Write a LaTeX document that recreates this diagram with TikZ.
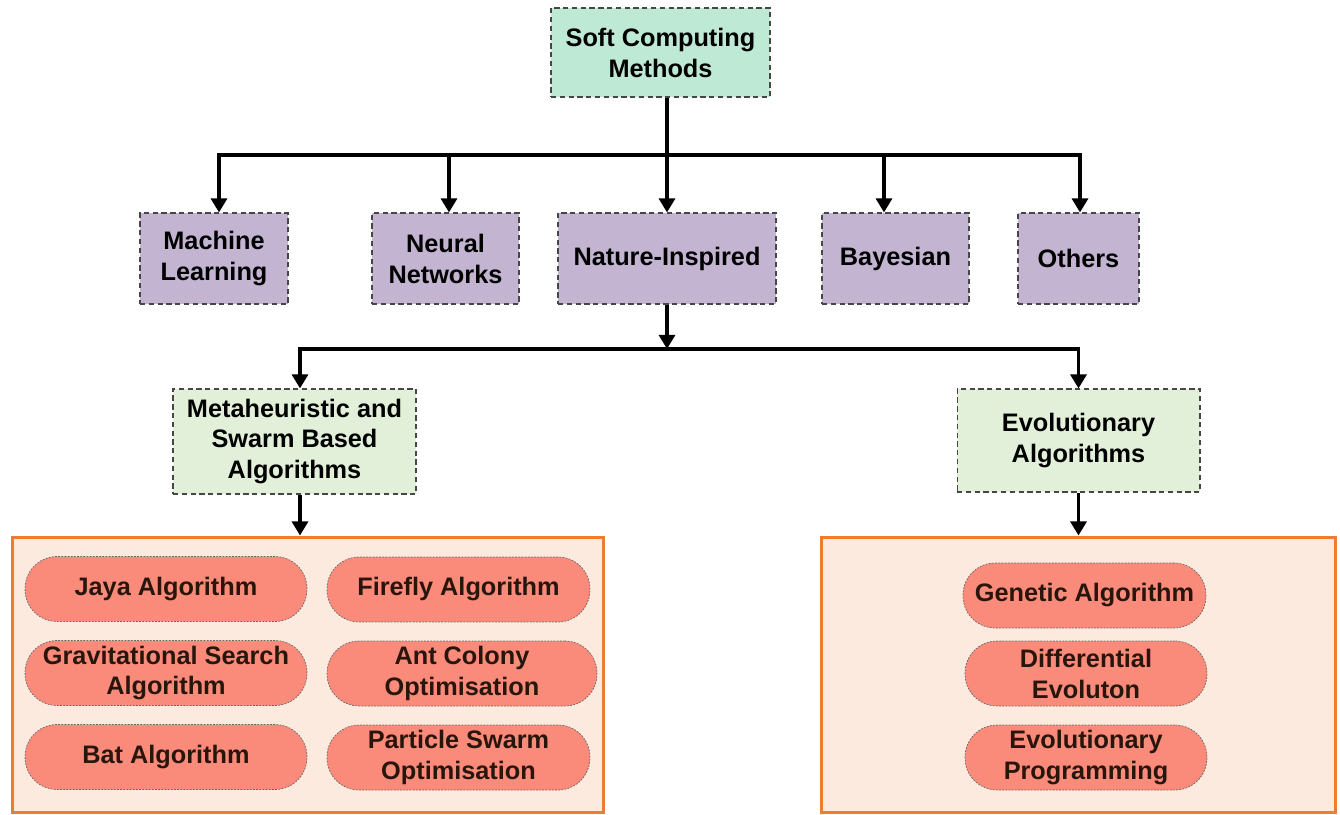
\documentclass[tikz,border=0pt]{standalone}
\usepackage{fontspec}
\setmainfont{Liberation Sans}
\usetikzlibrary{arrows.meta}

\definecolor{mintfill}{RGB}{190,233,212}
\definecolor{lilacfill}{RGB}{195,181,210}
\definecolor{leaffill}{RGB}{226,240,217}
\definecolor{panelfill}{RGB}{252,234,222}
\definecolor{paneledge}{RGB}{237,125,49}
\definecolor{pillfill}{RGB}{250,138,122}
\definecolor{pilltext}{RGB}{40,22,12}
\definecolor{boxedge}{RGB}{70,70,70}

\tikzset{
  boxnode/.style={draw=boxedge,dash pattern=on 3pt off 2pt,line width=0.6pt,
    inner sep=0pt,align=center,font=\bfseries\fontsize{14.4}{17.6}\selectfont},
  rootbox/.style={boxnode,fill=mintfill,minimum width=4.38cm,minimum height=1.78cm},
  catbox/.style={boxnode,fill=lilacfill,minimum height=1.82cm},
  subbox/.style={boxnode,fill=leaffill,minimum width=4.86cm},
  panel/.style={draw=paneledge,fill=panelfill,line width=1.7pt,inner sep=0pt},
  pill/.style={draw=gray!80!black,dash pattern=on 1pt off 0.8pt,line width=0.4pt,
    fill=pillfill,rounded corners=0.64cm,minimum height=1.3cm,inner sep=0pt,
    align=center,text=pilltext,font=\bfseries\fontsize{14.4}{17.6}\selectfont},
  link/.style={line width=2.2pt,-{Triangle[width=9pt,length=8pt]}},
  bus/.style={line width=2.2pt}
}

\begin{document}
\begin{tikzpicture}[x=0.02cm,y=-0.02cm]
            \useasboundingbox (0,0) rectangle (1340,815);
            % top level
            \node[rootbox] (soft) at (660.5,52.5) {Soft Computing\\Methods};
            \node[catbox,minimum width=2.96cm] (ml) at (214,258.5) {Machine\\Learning};
            \node[catbox,minimum width=2.94cm] (nn) at (445.5,258.5) {Neural\\Networks};
            \node[catbox,minimum width=4.36cm] (ni) at (667,258.5) {Nature-Inspired};
            \node[catbox,minimum width=2.94cm] (bay) at (895.5,258.5) {Bayesian};
            \node[catbox,minimum width=2.42cm] (oth) at (1078.5,258.5) {Others};
            \coordinate (bus1) at (667,155);
            \draw[link] (soft.south -| ni.north) -- (ni.north);
            \foreach \n/\dx in {ml/0.1,nn/0.07,bay/-0.23,oth/0.03} {
                \draw[link] (bus1) -| ([xshift=\dx cm]\n.north);
            }
            % nature-inspired branch
            \node[subbox,minimum height=2.1cm] (meta) at (294.5,441.5) {Metaheuristic and\\Swarm Based\\Algorithms};
            \node[subbox,minimum height=2.06cm] (evo) at (1078.5,440.5) {Evolutionary\\Algorithms};
            \coordinate (bus2) at (667,349);
            \draw[link] (ni.south) -- (bus2);
            \draw[link] (bus2) -| ([xshift=0.11cm]meta.north);
            \draw[link] (bus2) -| (evo.north);
            % panels
            \node[panel,minimum width=11.84cm,minimum height=5.52cm] (lpanel) at (308,675) {};
            \node[panel,minimum width=10.3cm,minimum height=5.52cm] (rpanel) at (1078.5,675) {};
            \draw[link] ([xshift=0.11cm]meta.south) -- ([xshift=0.11cm]meta.south |- lpanel.north);
            \draw[link] (evo.south) -- (evo.south |- rpanel.north);
            \node[pill,minimum width=5.64cm] (jaya) at (166,589) {Jaya Algorithm};
            \node[pill,minimum width=5.64cm] (grav) at (166,673) {Gravitational Search\\Algorithm};
            \node[pill,minimum width=5.64cm] (bat) at (166,757) {Bat Algorithm};
            \node[pill,minimum width=5.26cm] (fire) at (458.5,589.5) {Firefly Algorithm};
            \node[pill,minimum width=5.4cm] (ant) at (462,673.5) {Ant Colony\\Optimisation};
            \node[pill,minimum width=5.26cm] (pso) at (458.5,757.5) {Particle Swarm\\Optimisation};
            \node[pill,minimum width=4.86cm] (ga) at (1084.5,595.5) {Genetic Algorithm};
            \node[pill,minimum width=4.84cm] (de) at (1086,673.5) {Differential\\Evoluton};
            \node[pill,minimum width=4.84cm] (ep) at (1086,757.5) {Evolutionary\\Programming};
        \end{tikzpicture}
\end{document}
